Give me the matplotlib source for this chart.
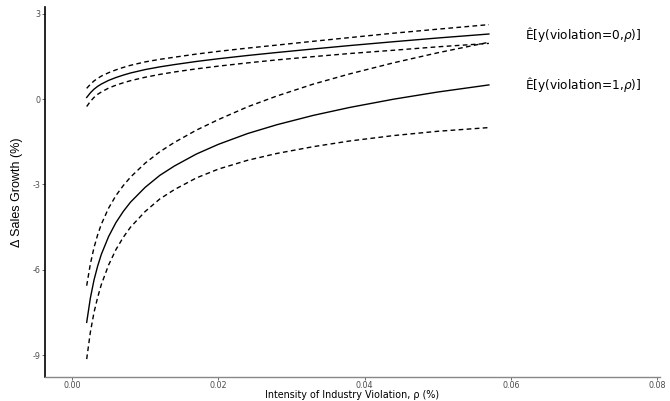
import matplotlib
matplotlib.use("Agg")
import matplotlib.pyplot as plt
from matplotlib import font_manager

# Intensity of industry violation (rho, %)
rho = [0.002, 0.0025, 0.003, 0.0035, 0.004, 0.005, 0.006, 0.007, 0.008, 0.010,
       0.012, 0.014, 0.017, 0.020, 0.024, 0.028, 0.033, 0.038, 0.044, 0.050, 0.057]

# Expected sales growth without a violation: estimate and confidence band
fit_v0 = [0.06, 0.22, 0.35, 0.45, 0.53, 0.66, 0.76, 0.845, 0.92, 1.04,
          1.135, 1.215, 1.325, 1.42, 1.535, 1.64, 1.765, 1.885, 2.02, 2.15, 2.29]
hi_v0 = [0.38, 0.52, 0.64, 0.73, 0.81, 0.93, 1.03, 1.115, 1.19, 1.31,
         1.40, 1.475, 1.585, 1.68, 1.795, 1.90, 2.035, 2.165, 2.32, 2.46, 2.62]
lo_v0 = [-0.26, -0.08, 0.06, 0.17, 0.25, 0.39, 0.49, 0.575, 0.65, 0.77,
         0.87, 0.955, 1.065, 1.16, 1.275, 1.38, 1.495, 1.605, 1.72, 1.84, 1.96]

# Expected sales growth with a violation: estimate and confidence band
fit_v1 = [-7.85, -7.00, -6.36, -5.87, -5.46, -4.83, -4.34, -3.95, -3.62, -3.10,
          -2.68, -2.35, -1.93, -1.59, -1.21, -0.90, -0.57, -0.29, 0.00, 0.25, 0.50]
hi_v1 = [-6.56, -5.80, -5.22, -4.77, -4.40, -3.83, -3.39, -3.04, -2.74, -2.25,
         -1.85, -1.52, -1.09, -0.72, -0.27, 0.11, 0.53, 0.89, 1.28, 1.63, 2.00]
lo_v1 = [-9.14, -8.20, -7.50, -6.97, -6.52, -5.83, -5.29, -4.86, -4.50, -3.95,
         -3.51, -3.18, -2.77, -2.46, -2.15, -1.91, -1.67, -1.47, -1.28, -1.13, -1.00]

labels = ["Ê[y(violation=0,$\\rho$)]", "Ê[y(violation=1,$\\rho$)]"]

x_ticks = [0.00, 0.02, 0.04, 0.06, 0.08]
y_ticks = [-9, -6, -3, 0, 3]

plt.rcParams["font.family"] = ["DejaVu Sans"]
plt.rcParams["mathtext.fontset"] = "dejavusans"

installed = {f.name for f in font_manager.fontManager.ttflist}
narrow = "Liberation Sans Narrow" if "Liberation Sans Narrow" in installed else "Liberation Sans"

fig = plt.figure(figsize=(6.70, 4.01), dpi=100)
ax = fig.add_axes([45 / 670, 24 / 401, 615 / 670, 370 / 401])

dash = (0, (3.4, 2.4))
for fit, hi, lo in [(fit_v0, hi_v0, lo_v0), (fit_v1, hi_v1, lo_v1)]:
    ax.plot(rho, fit, color="black", lw=1.0)
    ax.plot(rho, hi, color="black", lw=1.0, linestyle=dash)
    ax.plot(rho, lo, color="black", lw=1.0, linestyle=dash)

for fit, lab in zip([fit_v0, fit_v1], labels):
    ax.text(0.0619, fit[-1], lab, fontsize=8.7, ha="left", va="center", color="black")

ax.set_xlim(-0.0037, 0.0804)
ax.set_ylim(-9.77, 3.24)
ax.set_xticks(x_ticks)
ax.set_xticklabels([f"{v:.2f}" for v in x_ticks])
ax.set_yticks(y_ticks)
ax.set_yticklabels([str(v) for v in y_ticks])

ax.tick_params(axis="both", length=2.2, width=0.6, color="#555555",
               labelsize=5.8, labelcolor="#4d4d4d", pad=1.0)
ax.tick_params(axis="x", pad=0.4)

for s in ["top", "right"]:
    ax.spines[s].set_visible(False)
ax.spines["left"].set_color("black")
ax.spines["left"].set_linewidth(1.2)
ax.spines["bottom"].set_color("#888888")
ax.spines["bottom"].set_linewidth(1.0)

ax.set_ylabel("Δ Sales Growth (%)", fontsize=9, family=[narrow, "DejaVu Sans"])
ax.yaxis.set_label_coords(-0.036, 0.5)

# x-axis title anchored by its bottom edge just above the figure border
ax.set_xlabel("Intensity of Industry Violation, ρ (%)", fontsize=6.9)
ax.xaxis.label.set_verticalalignment("bottom")
y_axes = ax.transAxes.inverted().transform(fig.transFigure.transform((0, 1.2 / 401)))[1]
ax.xaxis.set_label_coords(0.5, y_axes)

fig.savefig("out.png", dpi=100)
